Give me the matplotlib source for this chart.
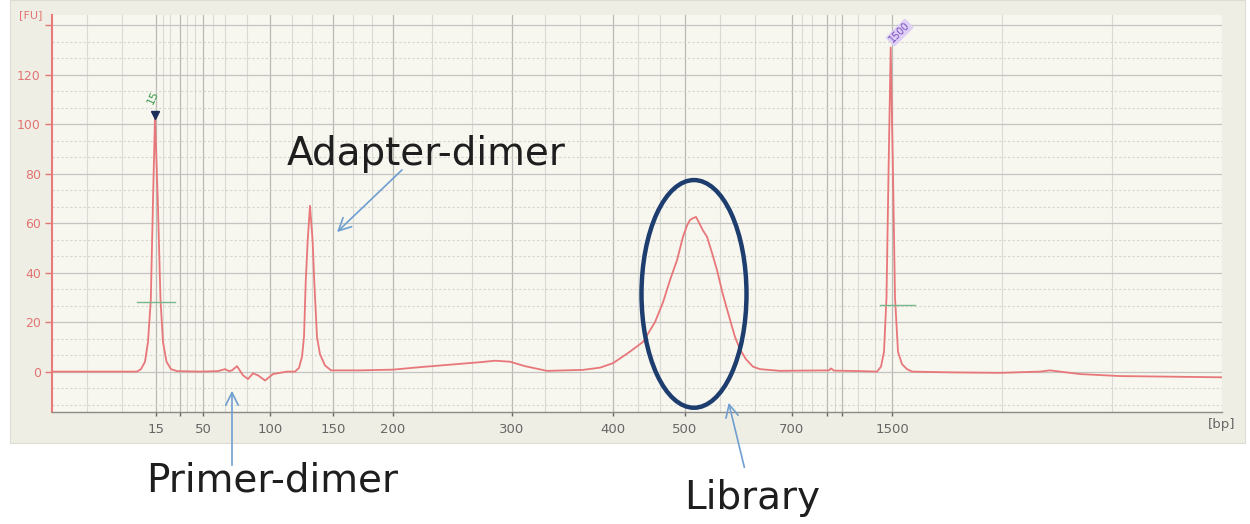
import matplotlib
matplotlib.use("Agg")
import matplotlib.pyplot as plt
from matplotlib.patches import Ellipse, Rectangle

plt.rcParams["font.family"] = ["DejaVu Sans"]

# ---------------- data ----------------
# migration position (arbitrary instrument units) and fluorescence (FU)
trace_pos = [52, 100, 137, 141, 145, 148, 150.8, 153, 155, 157.8, 160.5, 163, 166.5, 171, 177,
             200, 218, 225, 229, 232, 237, 243, 248, 253, 258, 265, 273, 287,
             295, 299, 302, 304, 305.7, 307.7, 310, 312.6, 314.3, 317, 320, 325, 331,
             360, 393, 420, 450, 480, 495, 510, 525, 547, 583, 600, 613, 628, 643,
             655, 663, 670, 677, 683, 687, 690, 693, 696, 698, 703, 707, 712, 717,
             723, 730, 735, 740, 746, 753, 760, 780, 800, 829, 831, 834, 860,
             877, 881, 884, 886.5, 888.5, 890.7, 893, 895, 898, 902, 907, 912,
             950, 1000, 1040, 1050, 1060, 1080, 1120, 1222]
trace_fu = [0, 0, 0, 1, 4, 12, 29, 69, 103, 69, 29, 12, 4, 1, 0.2,
            0, 0.2, 1, 0.2, 0.5, 2.2, -1.5, -3, -0.7, -1.5, -3.6, -1, 0,
            0, 1.5, 6, 14, 36, 53, 67, 53, 36, 14, 7, 2.5, 0.5,
            0.5, 0.8, 1.8, 2.8, 3.8, 4.4, 4.0, 2.2, 0.3, 0.7, 1.6, 3.4, 7.5, 12,
            20, 28, 37, 45, 54.5, 59, 61.3, 62, 62.5, 61, 57, 54.5, 48, 41,
            31, 21, 14, 9, 5, 2, 1, 0.3, 0.4, 0.5, 1.3, 0.4, 0.2,
            0, 2, 8, 30, 80, 131, 80, 30, 8, 3, 1, 0,
            -0.3, -0.5, 0, 0.5, 0, -1, -1.8, -2.3]

bp_tick_pos = [156, 180, 203, 270, 333, 393, 512, 613, 685, 792, 827, 842, 892]
bp_tick_labels = ["15", "", "50", "100", "150", "200", "300", "400", "500", "700", "", "", "1500"]
minor_grid_pos = [87, 122, 163, 170, 187, 195, 213, 225, 247, 292, 312, 353, 372, 432,
                  472, 545, 580, 638, 660, 720, 755, 802, 812, 835, 858, 875, 1002, 1112, 1222]
fu_ticks = [0, 20, 40, 60, 80, 100, 120, 140]
fu_tick_labels = ["0", "20", "40", "60", "80", "100", "120", ""]

marker_lo_pos, marker_lo_fu, marker_lo_label = 155, 103.5, "15"
marker_hi_pos, marker_hi_fu, marker_hi_label = 890.7, 131, "1500"
library_center_pos, library_center_fu = 694, 31.4

# ---------------- figure ----------------
W, H = 1250, 524
fig = plt.figure(figsize=(W / 100, H / 100), dpi=100)
fig.patch.set_facecolor("white")

# screenshot panel background
fig.patches.append(Rectangle((10 / W, (H - 443) / H), 1235 / W, 443 / H,
                             transform=fig.transFigure, facecolor="#efeee4",
                             edgecolor="#dcdcd4", lw=0.8, zorder=-5))

x0, x1 = 52, 1222
ax = fig.add_axes([x0 / W, 1 - 411.7 / H, (x1 - x0) / W, (411.7 - 15) / H])
ax.set_zorder(2)
ax.set_facecolor("#f7f6ef")
ax.set_xlim(x0, x1)
ax.set_ylim(-16.2, 144.1)

# grid
for v in minor_grid_pos:
    ax.axvline(v, color="#d9d9d6", lw=0.8, zorder=1)
for v in bp_tick_pos:
    ax.axvline(v, color="#b9b9b6", lw=0.9, zorder=1)
for j in range(-2, 22):
    y = j * 20 / 3
    if j % 3 == 0:
        ax.axhline(y, color="#c4c4c0", lw=0.9, zorder=1)
    else:
        ax.axhline(y, color="#d4d4d0", lw=0.8, ls=(0, (2, 2)), zorder=1)

# trace
ax.plot(trace_pos, trace_fu, color="#e8777a", lw=1.3, zorder=3)

# marker decorations
ax.plot([137, 175], [28.1, 28.1], color="#79b88a", lw=1.0, zorder=4)
ax.plot([880, 915], [26.9, 26.9], color="#79b88a", lw=1.0, zorder=4)
ax.plot([marker_lo_pos], [marker_lo_fu], marker="v", color="#1d2e5a", ms=6, zorder=5)
ax.text(marker_lo_pos - 2, marker_lo_fu + 4, marker_lo_label, color="#3f9a50",
        fontsize=8, rotation=65, ha="center", va="bottom", zorder=5)
ax.text(marker_hi_pos + 9, marker_hi_fu + 6, marker_hi_label, color="#7a4cc0",
        fontsize=7, rotation=45, ha="center", va="center", zorder=5,
        bbox=dict(boxstyle="round,pad=0.15", fc="#ddd0f4", ec="none"))

# library ellipse
ax.add_patch(Ellipse((library_center_pos, library_center_fu), width=105, height=92,
                     fill=False, edgecolor="#1c3d6e", lw=3.2, zorder=6))

# axes styling
for s in ("top", "right"):
    ax.spines[s].set_visible(False)
ax.spines["left"].set_color("#e87a7a")
ax.spines["left"].set_linewidth(1.5)
ax.spines["bottom"].set_color("#8a8a86")
ax.spines["bottom"].set_linewidth(1.0)
ax.set_yticks(fu_ticks)
ax.set_yticklabels(fu_tick_labels)
ax.tick_params(axis="y", colors="#e27474", labelsize=9, length=5, width=1, pad=3)
ax.set_xticks(bp_tick_pos)
ax.set_xticklabels(bp_tick_labels)
ax.tick_params(axis="x", colors="#666666", labelsize=9.5, length=3, width=1, pad=5)
ax.text(-0.008, 1.0, "[FU]", transform=ax.transAxes, color="#e27474", fontsize=8,
        ha="right", va="center")
ax.text(1222, -21.5, "[bp]", color="#666666", fontsize=9.5, ha="center", va="center",
        clip_on=False)

# annotations (figure pixels)
arrow_kw = dict(arrowstyle="->,head_length=0.9,head_width=0.45", color="#6f9fd0", lw=1.2)
fig.text(426 / W, (H - 165) / H, "Adapter-dimer", fontsize=28, color="#1e1e1e",
         ha="center", va="baseline", zorder=10)
fig.text(272 / W, (H - 491) / H, "Primer-dimer", fontsize=28, color="#1e1e1e",
         ha="center", va="baseline", zorder=10)
fig.text(752 / W, (H - 509) / H, "Library", fontsize=28, color="#1e1e1e",
         ha="center", va="baseline", zorder=10)
for tip, tail in [((335, H - 234), (404, H - 168)),
                  ((232, H - 388), (232, H - 468)),
                  ((728, H - 400), (745, H - 470))]:
    ax.annotate("", xy=tip, xycoords="figure pixels", xytext=tail,
                textcoords="figure pixels", arrowprops=arrow_kw, annotation_clip=False,
                zorder=10)

fig.savefig("out.png", dpi=100)
